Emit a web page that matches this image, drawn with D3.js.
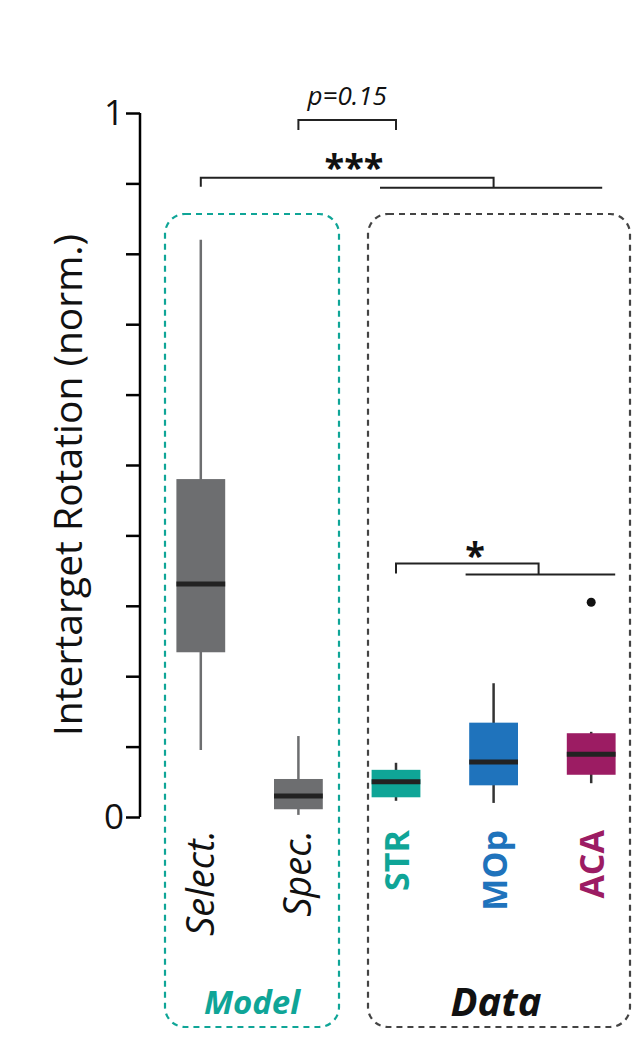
<!DOCTYPE html>
<html><head><meta charset="utf-8">
<script src="https://cdn.jsdelivr.net/npm/d3@7"></script>
<style>body{margin:0;background:#fff}text{font-family:"Open Sans",sans-serif}</style>
</head><body>
<script>
const groups = ["Select.", "Spec.", "STR", "MOp", "ACA"];
const colors = ["#6d6e70", "#6d6e70", "#0fa597", "#1f73bc", "#9c1c63"];
const labelColors = ["#111", "#111", "#0fa597", "#1f73bc", "#9c1c63"];
const whiskLo = [0.095, 0.003, 0.023, 0.020, 0.048];
const q1 = [0.234, 0.011, 0.028, 0.045, 0.060];
const med = [0.331, 0.030, 0.050, 0.078, 0.089];
const q3 = [0.480, 0.054, 0.067, 0.134, 0.119];
const whiskHi = [0.820, 0.115, 0.077, 0.190, 0.121];
const outliers = [["ACA", 0.305]];
const yTicks = d3.range(0, 1.01, 0.1);

const W = 632, H = 1059;
const svg = d3.select("body").append("svg").attr("width", W).attr("height", H);

const y = d3.scaleLinear().domain([0, 1]).range([817, 113]);
const x = d3.scaleBand().domain(groups).range([152, 640]).paddingInner(0.5).paddingOuter(0.25);
const cx = g => x(g) + x.bandwidth() / 2;

// dashed group frames
svg.append("rect").attr("x", 165).attr("y", 214).attr("width", 174).attr("height", 813).attr("rx", 20)
  .attr("fill", "none").attr("stroke", "#0fa597").attr("stroke-width", 2.2).attr("stroke-dasharray", "6,5");
svg.append("rect").attr("x", 368).attr("y", 214).attr("width", 262).attr("height", 813).attr("rx", 20)
  .attr("fill", "none").attr("stroke", "#444").attr("stroke-width", 2.2).attr("stroke-dasharray", "6,5");

// axis
const yAxis = d3.axisLeft(y).tickValues(yTicks).tickSize(14)
  .tickFormat(d => (d === 0 || d === 1) ? d3.format("d")(d) : "");
const ga = svg.append("g").attr("transform", "translate(140,0)").call(yAxis);
ga.select(".domain").attr("stroke-width", 2.5).attr("d", "M0," + y(1) + "V" + y(0));
ga.selectAll(".tick line").attr("stroke-width", 2.5);
ga.selectAll(".tick text").attr("font-size", 35).attr("x", -16).attr("fill", "#111");

svg.append("text").attr("transform", "translate(82,485) rotate(-90)").attr("text-anchor", "middle")
  .attr("font-size", 39).attr("fill", "#111").text("Intertarget Rotation (norm.)");

// boxes
groups.forEach((g, i) => {
  const c = cx(g), bw = x.bandwidth();
  svg.append("line").attr("x1", c).attr("x2", c).attr("y1", y(whiskLo[i])).attr("y2", y(whiskHi[i]))
    .attr("stroke", i < 2 ? "#6d6e70" : "#333").attr("stroke-width", 2.5);
  svg.append("rect").attr("x", x(g)).attr("width", bw).attr("y", y(q3[i])).attr("height", y(q1[i]) - y(q3[i]))
    .attr("fill", colors[i]);
  svg.append("line").attr("x1", x(g)).attr("x2", x(g) + bw).attr("y1", y(med[i])).attr("y2", y(med[i]))
    .attr("stroke", "#222").attr("stroke-width", 5);
  svg.append("text").attr("transform", `translate(${c + 13},${830}) rotate(-90)`).attr("text-anchor", "end")
    .attr("font-size", i < 2 ? 38 : 34).attr("fill", labelColors[i])
    .attr("font-style", i < 2 ? "italic" : "normal").attr("font-weight", i < 2 ? "normal" : "bold").text(g);
});
outliers.forEach(o => svg.append("circle").attr("cx", cx(o[0])).attr("cy", y(o[1])).attr("r", 4.5).attr("fill", "#111"));

// significance brackets
const br = d => svg.append("path").attr("d", d).attr("fill", "none").attr("stroke", "#222").attr("stroke-width", 2);
const sY = y(0.99), tY = y(0.908), uY = y(0.36);
br(`M${cx("Spec.")},${sY + 10}V${sY}H${cx("STR")}V${sY + 10}`);
svg.append("text").attr("x", (cx("Spec.") + cx("STR")) / 2).attr("y", 105).attr("text-anchor", "middle")
  .attr("font-size", 26).attr("font-style", "italic").attr("fill", "#111").text("p=0.15");
br(`M${cx("Select.")},${tY + 9}V${tY}H${cx("MOp")}V${tY + 10}`);
br(`M${cx("STR") - 16},${tY + 10}H${cx("ACA") + 11}`);
svg.append("text").attr("x", 354).attr("y", 180).attr("text-anchor", "middle")
  .attr("font-size", 36).attr("font-weight", "bold").attr("fill", "#111").text("***");
br(`M${cx("STR")},${uY + 10}V${uY}H${cx("MOp") + 45}V${uY + 11}`);
br(`M${cx("MOp") - 28},${uY + 11}H${cx("ACA") + 24}`);
svg.append("text").attr("x", 475).attr("y", 568).attr("text-anchor", "middle")
  .attr("font-size", 36).attr("font-weight", "bold").attr("fill", "#111").text("*");

// group titles
svg.append("text").attr("x", 252).attr("y", 1014).attr("text-anchor", "middle").attr("font-size", 33)
  .attr("font-style", "italic").attr("font-weight", "bold").attr("fill", "#0fa597").text("Model");
svg.append("text").attr("x", 496).attr("y", 1016).attr("text-anchor", "middle").attr("font-size", 40)
  .attr("font-style", "italic").attr("font-weight", "bold").attr("fill", "#111").text("Data");
</script>
</body></html>
